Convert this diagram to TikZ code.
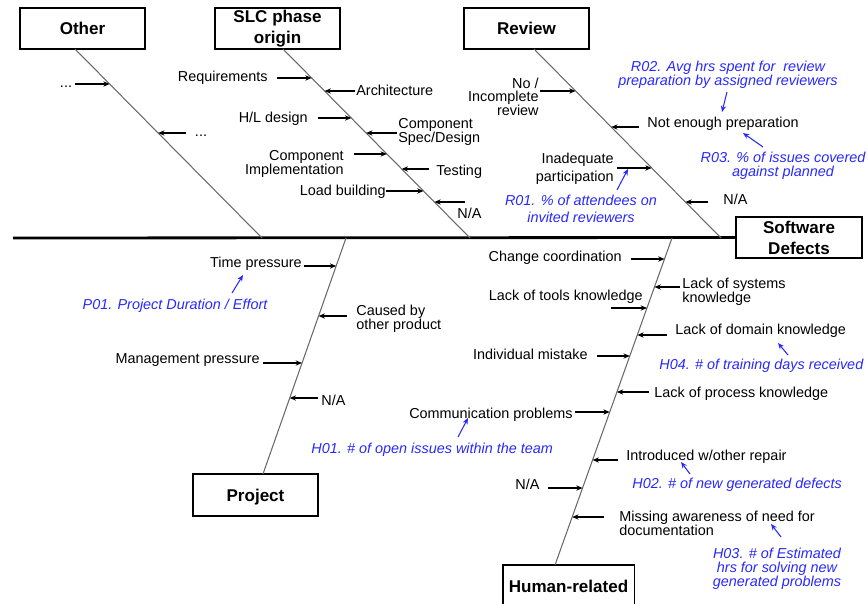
\documentclass[tikz,border=0pt]{standalone}
\usepackage{fontspec}
\setmainfont{Liberation Sans}
\usetikzlibrary{arrows.meta}
\definecolor{annot}{RGB}{40,40,255}
\definecolor{bonegray}{RGB}{105,105,105}
\newcommand{\headfont}{\fontsize{9.7}{12}\selectfont\bfseries}
\newcommand{\causefont}{\fontsize{8.2}{7.9}\selectfont}

\begin{document}
\begin{tikzpicture}[x=0.02cm,y=-0.02cm]
	\useasboundingbox (0,0) rectangle (868,604);

	% category boxes
	\begin{scope}[every node/.style={draw,fill=white,line width=0.6pt,align=center,inner ysep=0pt,
	              minimum width=2.5cm,minimum height=0.82cm,font=\headfont}]
	    \node (other) at (82.5,28.5) {Other};
	    \node (slc) at (277.5,28.5) {SLC phase\\origin};
	    \node (review) at (526.5,28.5) {Review};
	    \node[minimum width=2.52cm] (defects) at (799,237.5) {Software\\Defects};
	    \node[minimum height=0.84cm,text depth=0pt] (project) at (255.5,495) {Project};
	    \node[minimum height=0.84cm] (human) at (568.5,586) {Human-related};
	\end{scope}

	% spine and bones
	\coordinate (tail) at (13,238);
	\coordinate (othtop) at (75,49);
	\coordinate (othbot) at (262,238);
	\coordinate (slctop) at (283,49);
	\coordinate (slcbot) at (470,238);
	\coordinate (revtop) at (534,49);
	\coordinate (revbot) at (721,238);
	\coordinate (projtop) at (346,238);
	\coordinate (projbot) at (263,474);
	\coordinate (humtop) at (672,238);
	\coordinate (humbot) at (555,565);
	\draw[line width=1.6pt] (tail) -- (defects.west);
	\begin{scope}[every path/.style={draw=bonegray,line width=0.6pt}]
	    \path (othtop) -- (othbot);
	    \path (slctop) -- (slcbot);
	    \path (revtop) -- (revbot);
	    \path (projtop) -- (projbot);
	    \path (humtop) -- (humbot);
	\end{scope}

	% causes
	\begin{scope}[every node/.style={font=\causefont,inner sep=0pt,yshift=-1pt}]
	    \node (dots1) at (66,85) {...};
	    \node (dots2) at (201,134) {...};
	    \node[anchor=east] (req) at (268,76) {Requirements};
	    \node[anchor=west] (arch) at (356,89) {Architecture};
	    \node[anchor=east] (hld) at (308,117) {H/L design};
	    \node[anchor=west,align=left] (spec) at (398,130) {Component\\Spec/Design};
	    \node[anchor=east,align=right] (impl) at (344,162) {Component\\Implementation};
	    \node[anchor=west] (test) at (436,170) {Testing};
	    \node[anchor=east] (load) at (386,190) {Load building};
	    \node[anchor=west] (slcna) at (457,212) {N/A};
	    \node[anchor=east,align=right] (norev) at (539,95) {No /\\Incomplete\\review};
	    \node[anchor=west] (prep) at (647,122) {Not enough preparation};
	    \node[anchor=east,align=right] (part) at (614,167) {Inadequate\\[2pt]participation};
	    \node[anchor=west] (revna) at (723,198) {N/A};
	    \node[anchor=east] (time) at (302,262) {Time pressure};
	    \node[anchor=west,align=left] (prod) at (356,317) {Caused by\\other product};
	    \node[anchor=east] (mgmt) at (260,358) {Management pressure};
	    \node[anchor=west] (projna) at (321,399) {N/A};
	    \node[anchor=east] (change) at (622,256) {Change coordination};
	    \node[anchor=west,align=left] (systems) at (682,290) {Lack of systems\\knowledge};
	    \node[anchor=east] (tools) at (643,295) {Lack of tools knowledge};
	    \node[anchor=west] (domain) at (675,329) {Lack of domain knowledge};
	    \node[anchor=east] (mistake) at (588,353) {Individual mistake};
	    \node[anchor=west] (process) at (654,392) {Lack of process knowledge};
	    \node[anchor=east] (comm) at (573,413) {Communication problems};
	    \node[anchor=west] (repair) at (626,455) {Introduced w/other repair};
	    \node[anchor=west] (humna) at (515,483) {N/A};
	    \node[anchor=west,align=left] (doc) at (619,522) {Missing awareness of need for\\documentation};
	\end{scope}

	% metrics
	\begin{scope}[every node/.style={font=\causefont\itshape,text=annot,inner sep=0pt,
	              align=center,yshift=-1pt}]
	    \node (r02) at (728,73) {R02. Avg hrs spent for\ \ review\\preparation by assigned reviewers};
	    \node (r03) at (783,164) {R03. \% of issues covered\\against planned};
	    \node (r01) at (581,207) {R01. \% of attendees on\\[2pt]invited reviewers};
	    \node (p01) at (175,304) {P01. Project Duration / Effort};
	    \node[anchor=west] (h04) at (659,364) {H04. \# of training days received};
	    \node[anchor=west] (h01) at (311,448) {H01. \# of open issues within the team};
	    \node[anchor=west] (h02) at (632,483) {H02. \# of new generated defects};
	    \node (h03) at (777,567) {H03. \# of Estimated\\hrs for solving new\\generated problems};
	\end{scope}

	% arrow ends
	\coordinate (o1) at (75,84);    \coordinate (o1h) at (109.6,84);
	\coordinate (o2) at (186,133);  \coordinate (o2h) at (158.1,133);
	\coordinate (s1) at (277,78);   \coordinate (s1h) at (311.7,78);
	\coordinate (s2) at (355,91);   \coordinate (s2h) at (324.6,91);
	\coordinate (s3) at (318,118);  \coordinate (s3h) at (351.3,118);
	\coordinate (s4) at (397,133);  \coordinate (s4h) at (366.1,133);
	\coordinate (s5) at (354,154);  \coordinate (s5h) at (386.9,154);
	\coordinate (s6) at (429,169);  \coordinate (s6h) at (401.7,169);
	\coordinate (s7) at (386,191);  \coordinate (s7h) at (423.5,191);
	\coordinate (s8) at (465,202);  \coordinate (s8h) at (434.4,202);
	\coordinate (v1) at (540,91);   \coordinate (v1h) at (575.6,91);
	\coordinate (v2) at (639,127);  \coordinate (v2h) at (611.2,127);
	\coordinate (v3) at (617,168);  \coordinate (v3h) at (651.7,168);
	\coordinate (v4) at (708,202);  \coordinate (v4h) at (685.4,202);
	\coordinate (p1) at (304,266);  \coordinate (p1h) at (336.2,266);
	\coordinate (p2) at (347,316);  \coordinate (p2h) at (318.6,316);
	\coordinate (p3) at (263,363);  \coordinate (p3h) at (302,363);
	\coordinate (p4) at (318,398);  \coordinate (p4h) at (289.7,398);
	\coordinate (h1) at (631,259);  \coordinate (h1h) at (664.5,259);
	\coordinate (h2) at (680,287);  \coordinate (h2h) at (654.5,287);
	\coordinate (h3) at (611,308);  \coordinate (h3h) at (647,308);
	\coordinate (h4) at (667,335);  \coordinate (h4h) at (637.3,335);
	\coordinate (h5) at (597,356);  \coordinate (h5h) at (629.8,356);
	\coordinate (h6) at (649,392);  \coordinate (h6h) at (616.9,392);
	\coordinate (h7) at (575,412);  \coordinate (h7h) at (609.7,412);
	\coordinate (h8) at (618,460);  \coordinate (h8h) at (592.6,460);
	\coordinate (h9) at (548,488);  \coordinate (h9h) at (582.6,488);
	\coordinate (h10) at (604,517); \coordinate (h10h) at (572.2,517);
	\coordinate (m1) at (727,92);   \coordinate (m1h) at (722,112);
	\coordinate (m2) at (763,147);  \coordinate (m2h) at (743,133);
	\coordinate (m3) at (617,190);  \coordinate (m3h) at (628,169);
	\coordinate (m4) at (232,293);  \coordinate (m4h) at (243,275);
	\coordinate (m5) at (788,355);  \coordinate (m5h) at (778,343);
	\coordinate (m6) at (458,437);  \coordinate (m6h) at (468,418);
	\coordinate (m7) at (690,474);  \coordinate (m7h) at (681,462);
	\coordinate (m8) at (781,537);  \coordinate (m8h) at (771,524);

	\begin{scope}[>={Stealth[length=3.6pt,width=3pt]},
	              every edge/.style={draw=black,line width=0.6pt}]
	    \path (o1) edge[->] (o1h);
	    \path (o2) edge[->] (o2h);
	    \path (s1) edge[->] (s1h);
	    \path (s2) edge[->] (s2h);
	    \path (s3) edge[->] (s3h);
	    \path (s4) edge[->] (s4h);
	    \path (s5) edge[->] (s5h);
	    \path (s6) edge[->] (s6h);
	    \path (s7) edge[->] (s7h);
	    \path (s8) edge[->] (s8h);
	    \path (v1) edge[->] (v1h);
	    \path (v2) edge[->] (v2h);
	    \path (v3) edge[->] (v3h);
	    \path (v4) edge[->] (v4h);
	    \path (p1) edge[->] (p1h);
	    \path (p2) edge[->] (p2h);
	    \path (p3) edge[->] (p3h);
	    \path (p4) edge[->] (p4h);
	    \path (h1) edge[->] (h1h);
	    \path (h2) edge[->] (h2h);
	    \path (h3) edge[->] (h3h);
	    \path (h4) edge[->] (h4h);
	    \path (h5) edge[->] (h5h);
	    \path (h6) edge[->] (h6h);
	    \path (h7) edge[->] (h7h);
	    \path (h8) edge[->] (h8h);
	    \path (h9) edge[->] (h9h);
	    \path (h10) edge[->] (h10h);
	\end{scope}

	\begin{scope}[>={Stealth[length=3.6pt,width=3pt]},
	              every edge/.style={draw=annot,line width=0.6pt}]
	    \path (m1) edge[->] (m1h);
	    \path (m2) edge[->] (m2h);
	    \path (m3) edge[->] (m3h);
	    \path (m4) edge[->] (m4h);
	    \path (m5) edge[->] (m5h);
	    \path (m6) edge[->] (m6h);
	    \path (m7) edge[->] (m7h);
	    \path (m8) edge[->] (m8h);
	\end{scope}
\end{tikzpicture}
\end{document}
